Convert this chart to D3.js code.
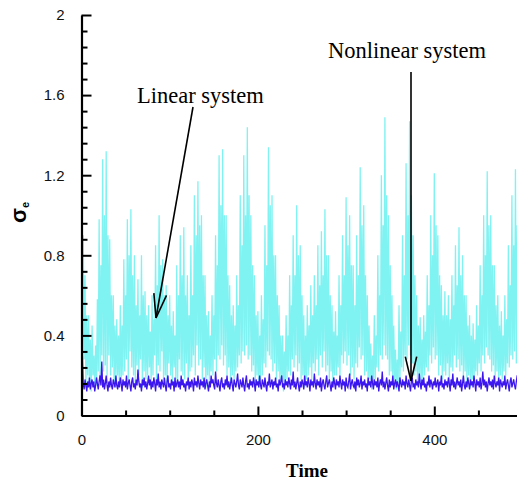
<!DOCTYPE html>
<html><head><meta charset="utf-8">
<script src="https://cdn.jsdelivr.net/npm/d3@7"></script>
<style>html,body{margin:0;padding:0;background:#fff;overflow:hidden}</style>
</head><body><svg id="c" width="517" height="484"></svg>
<script>
const timeStep = 1;
const linearSystem = [
1.05,0.2,0.9,0.28, 0.7,0.14,0.5,0.2, 0.5,0.16,0.38,0.12, 0.45,0.2,0.3,0.16, 0.35,0.15,0.58,0.22,
0.98,0.18,0.75,0.3, 1.28,0.22,1.0,0.25, 1.32,0.16,0.9,0.3, 0.88,0.2,0.6,0.24, 0.6,0.14,0.45,0.18,
0.48,0.2,0.4,0.15, 0.55,0.16,0.45,0.2, 0.78,0.22,0.6,0.28, 0.98,0.18,0.8,0.32, 1.03,0.24,0.7,0.2,
0.8,0.15,0.55,0.25, 0.68,0.2,0.5,0.28, 0.8,0.14,0.6,0.22, 0.62,0.18,0.5,0.2, 0.55,0.24,0.42,0.16,
0.6,0.2,0.48,0.3, 0.85,0.16,0.65,0.25, 1.0,0.22,0.75,0.32, 0.78,0.18,0.6,0.2, 0.65,0.14,0.5,0.26,
0.6,0.2,0.45,0.16, 0.52,0.24,0.4,0.18, 0.75,0.15,0.6,0.28, 0.9,0.22,0.7,0.2, 0.94,0.18,0.6,0.26,
0.7,0.15,0.5,0.22, 0.85,0.24,0.6,0.3, 1.1,0.2,0.9,0.35, 1.17,0.25,0.95,0.28, 1.0,0.18,0.7,0.24,
0.7,0.14,0.5,0.2, 0.52,0.16,0.4,0.22, 0.6,0.2,0.5,0.28, 0.9,0.22,0.75,0.3, 1.3,0.28,1.05,0.35,
1.33,0.25,1.0,0.3, 1.0,0.2,0.7,0.24, 0.65,0.15,0.5,0.2, 0.55,0.18,0.45,0.22, 0.7,0.24,0.55,0.3,
1.1,0.26,0.85,0.32, 1.3,0.3,1.0,0.35, 1.44,0.28,1.1,0.3, 1.0,0.22,0.75,0.25, 0.7,0.16,0.5,0.2,
0.52,0.14,0.4,0.18, 0.6,0.2,0.48,0.26, 0.95,0.24,0.75,0.32, 1.34,0.3,1.05,0.28, 1.1,0.22,0.8,0.26,
0.8,0.18,0.6,0.22, 0.55,0.15,0.4,0.18, 0.4,0.12,0.32,0.16, 0.5,0.18,0.4,0.22, 0.7,0.2,0.55,0.28,
0.9,0.24,0.7,0.3, 1.05,0.22,0.8,0.26, 0.85,0.18,0.6,0.2, 0.5,0.14,0.4,0.18, 0.55,0.2,0.45,0.24,
0.65,0.18,0.5,0.26, 0.7,0.22,0.55,0.28, 0.85,0.2,0.65,0.3, 0.92,0.24,0.7,0.32, 1.03,0.22,0.8,0.25,
0.8,0.18,0.6,0.22, 0.55,0.15,0.42,0.2, 0.52,0.2,0.4,0.24, 0.7,0.18,0.55,0.3, 0.9,0.26,0.7,0.32,
1.09,0.25,0.85,0.3, 1.0,0.2,0.75,0.24, 0.75,0.18,0.55,0.26, 0.9,0.24,0.7,0.34, 1.24,0.28,0.95,0.3,
1.05,0.2,0.7,0.22, 0.6,0.15,0.45,0.18, 0.36,0.13,0.3,0.16, 0.5,0.18,0.4,0.24, 0.8,0.22,0.6,0.3,
1.2,0.28,0.95,0.35, 1.49,0.3,1.1,0.28, 1.0,0.2,0.75,0.22, 0.6,0.15,0.45,0.18, 0.33,0.13,0.28,0.16,
0.55,0.18,0.42,0.24, 0.9,0.22,0.7,0.3, 1.26,0.28,1.0,0.35, 1.47,0.3,1.1,0.26, 0.9,0.2,0.7,0.22,
0.6,0.15,0.45,0.2, 0.49,0.14,0.38,0.18, 0.5,0.2,0.42,0.24, 0.7,0.22,0.55,0.3, 1.0,0.26,0.8,0.34,
1.21,0.28,0.95,0.3, 0.9,0.2,0.7,0.25, 0.65,0.18,0.5,0.22, 0.62,0.2,0.5,0.26, 0.6,0.16,0.48,0.24,
0.7,0.22,0.55,0.3, 0.85,0.24,0.65,0.28, 0.94,0.22,0.7,0.25, 0.8,0.18,0.6,0.22, 0.6,0.15,0.45,0.2,
0.5,0.14,0.4,0.18, 0.46,0.16,0.38,0.22, 0.55,0.2,0.45,0.26, 0.75,0.22,0.6,0.3, 1.0,0.26,0.8,0.34,
1.22,0.3,0.95,0.28, 1.0,0.22,0.75,0.25, 0.75,0.18,0.55,0.22, 0.6,0.15,0.45,0.2, 0.52,0.18,0.4,0.22,
0.6,0.2,0.48,0.26, 0.85,0.24,0.65,0.3, 1.1,0.28,0.85,0.32, 1.23,0.26,0.95,0.28, 0.9,0.2,0.7,0.22,
0.7];
const nonlinearSystem = [
0.65,0.3,0.16,0.13,0.18,0.15,0.12,0.17,0.14,0.19,
0.13,0.16,0.18,0.14,0.17,0.12,0.15,0.19,0.16,0.13,
0.17,0.2,0.15,0.27,0.14,0.18,0.13,0.16,0.2,0.15,
0.12,0.17,0.14,0.19,0.15,0.13,0.18,0.16,0.14,0.2,
0.15,0.13,0.17,0.14,0.19,0.16,0.12,0.18,0.15,0.17,
0.14,0.2,0.13,0.16,0.18,0.15,0.12,0.17,0.19,0.14,
0.16,0.13,0.18,0.15,0.23,0.17,0.14,0.16,0.12,0.18,
0.15,0.19,0.14,0.17,0.13,0.16,0.2,0.15,0.18,0.13,
0.17,0.14,0.19,0.16,0.12,0.18,0.15,0.21,0.14,0.17,
0.13,0.18,0.16,0.14,0.19,0.15,0.12,0.17,0.2,0.14,
0.16,0.13,0.18,0.15,0.17,0.12,0.19,0.14,0.16,0.18,
0.14,0.17,0.13,0.2,0.15,0.18,0.14,0.16,0.12,0.17,
0.15,0.19,0.13,0.17,0.14,0.18,0.16,0.12,0.19,0.15,
0.17,0.14,0.2,0.16,0.13,0.18,0.15,0.17,0.14,0.19,
0.13,0.16,0.18,0.15,0.12,0.17,0.14,0.2,0.16,0.18,
0.15,0.13,0.22,0.16,0.14,0.18,0.15,0.12,0.17,0.19,
0.14,0.16,0.13,0.18,0.15,0.2,0.14,0.17,0.13,0.16,
0.19,0.15,0.12,0.18,0.16,0.14,0.17,0.21,0.15,0.13,
0.18,0.16,0.14,0.19,0.15,0.12,0.17,0.2,0.14,0.16,
0.13,0.18,0.15,0.17,0.14,0.19,0.16,0.12,0.18,0.15,
0.17,0.14,0.2,0.15,0.13,0.18,0.16,0.14,0.19,0.15,
0.12,0.17,0.15,0.21,0.14,0.16,0.18,0.13,0.17,0.15,
0.19,0.14,0.16,0.12,0.18,0.15,0.17,0.2,0.14,0.16,
0.13,0.18,0.15,0.17,0.14,0.19,0.16,0.13,0.18,0.15,
0.22,0.14,0.17,0.13,0.16,0.19,0.15,0.12,0.17,0.14,
0.18,0.16,0.13,0.2,0.15,0.17,0.14,0.19,0.16,0.12,
0.18,0.15,0.17,0.14,0.21,0.16,0.13,0.18,0.15,0.17,
0.14,0.19,0.12,0.16,0.18,0.15,0.13,0.17,0.2,0.14,
0.16,0.18,0.15,0.12,0.17,0.14,0.19,0.16,0.13,0.18,
0.15,0.17,0.14,0.2,0.16,0.13,0.18,0.15,0.17,0.12,
0.19,0.15,0.14,0.17,0.21,0.13,0.16,0.18,0.15,0.14,
0.17,0.12,0.19,0.15,0.18,0.14,0.16,0.2,0.13,0.17,
0.15,0.18,0.14,0.16,0.12,0.19,0.15,0.17,0.14,0.2,
0.16,0.13,0.18,0.15,0.17,0.14,0.19,0.12,0.16,0.18,
0.15,0.22,0.14,0.17,0.13,0.16,0.19,0.15,0.12,0.18,
0.14,0.17,0.15,0.2,0.13,0.16,0.18,0.14,0.17,0.15,
0.12,0.19,0.16,0.14,0.18,0.15,0.17,0.13,0.2,0.16,
0.14,0.18,0.15,0.12,0.17,0.19,0.14,0.16,0.13,0.18,
0.15,0.17,0.14,0.21,0.16,0.13,0.18,0.15,0.19,0.14,
0.16,0.12,0.17,0.15,0.2,0.14,0.18,0.16,0.13,0.17,
0.15,0.19,0.14,0.16,0.18,0.12,0.17,0.15,0.2,0.14,
0.16,0.13,0.18,0.15,0.17,0.14,0.19,0.16,0.12,0.18,
0.15,0.21,0.14,0.17,0.13,0.16,0.19,0.15,0.17,0.14,
0.18,0.12,0.16,0.2,0.15,0.13,0.17,0.14,0.19,0.16,
0.13,0.18,0.15,0.17,0.14,0.2,0.16,0.12,0.18,0.15,
0.17,0.14,0.19,0.13,0.16,0.22,0.15,0.18,0.14,0.17,
0.12,0.16,0.19,0.15,0.17,0.14,0.18,0.13,0.2,0.16,
0.14,0.17,0.15,0.19,0.12,0.18,0.16,0.14,0.17,0.15,
0.2,0.13,0.16,0.18,0.15,0.12,0.17,0.19,0.14,0.16,
0.18,0.15,0.13,0.17,0.2,0.14,0.16,0.19,0.15,0.17,
0.16];
const xTicks = [0, 200, 400];
const xMinorTicks = [50, 100, 150, 250, 300, 350, 450, 500];
const yTicks = [0, 0.4, 0.8, 1.2, 1.6, 2];
const yTickLabels = ["0", "0.4", "0.8", "1.2", "1.6", "2"];
const yMinorTicks = [0.08,0.16,0.24,0.32,0.48,0.56,0.64,0.72,0.88,0.96,1.04,1.12,1.28,1.36,1.44,1.52,1.68,1.76,1.84,1.92];
const xTitle = "Time";
const labelLinear = "Linear system";
const labelNonlinear = "Nonlinear system";

const svg = d3.select("#c");
const x = d3.scaleLinear().domain([0, 500]).range([81.5, 522.5]);
const y = d3.scaleLinear().domain([0, 2]).range([415.5, 15]);

svg.append("defs").append("clipPath").attr("id", "clip")
  .append("rect").attr("x", 81.5).attr("y", 10).attr("width", 445).attr("height", 406);

const line = d3.line().x((d, i) => x(i * timeStep)).y(d => y(d));
const g = svg.append("g").attr("clip-path", "url(#clip)");
g.append("path").datum(linearSystem).attr("d", line)
  .attr("fill", "none").attr("stroke", "#7ff2f2").attr("stroke-width", 1.3);
g.append("path").datum(nonlinearSystem).attr("d", line)
  .attr("fill", "none").attr("stroke", "#3c16ee").attr("stroke-width", 1.3);

// axes
const axisFont = "'Liberation Sans', Arial, sans-serif";
const yAxis = svg.append("g").attr("transform", "translate(81.5,0)")
  .call(d3.axisLeft(y).tickValues(yTicks).tickFormat((d, i) => yTickLabels[i])
    .tickSizeInner(-10).tickSizeOuter(0).tickPadding(17));
yAxis.append("g").call(d3.axisLeft(y).tickValues(yMinorTicks).tickFormat("")
    .tickSizeInner(-6).tickSizeOuter(0)).select(".domain").remove();
const xAxis = svg.append("g").attr("transform", "translate(0,415.5)")
  .call(d3.axisBottom(x).tickValues(xTicks).tickFormat(d3.format("d"))
    .tickSizeInner(-9).tickSizeOuter(0).tickPadding(19));
xAxis.append("g").call(d3.axisBottom(x).tickValues(xMinorTicks).tickFormat("")
    .tickSizeInner(-5).tickSizeOuter(0)).select(".domain").remove();
svg.selectAll(".domain").attr("stroke", "#000").attr("stroke-width", 2.2);
svg.selectAll(".tick line").attr("stroke", "#000").attr("stroke-width", 2);
svg.selectAll(".tick text").attr("font-family", axisFont).attr("font-size", 15).attr("fill", "#111");

// axis titles
svg.append("text").attr("x", 307).attr("y", 477).attr("text-anchor", "middle")
  .attr("font-family", "'Liberation Serif', 'Times New Roman', serif").attr("font-weight", "bold")
  .attr("font-size", 19).text(xTitle);
const yt = svg.append("text").attr("transform", "translate(26,223) rotate(-90)")
  .attr("font-family", axisFont).attr("font-weight", "bold").attr("font-size", 22);
yt.append("tspan").text("σ");
yt.append("tspan").attr("font-size", 11).attr("dy", 3).text("e");

// annotations
const serif = "'Liberation Serif', 'Times New Roman', serif";
svg.append("text").attr("x", 137).attr("y", 103).attr("font-family", serif)
  .attr("font-size", 22.5).text(labelLinear);
svg.append("text").attr("x", 328).attr("y", 58).attr("font-family", serif)
  .attr("font-size", 22.5).text(labelNonlinear);

function arrow(x1, y1, x2, y2, len, ang) {
  svg.append("line").attr("x1", x1).attr("y1", y1).attr("x2", x2).attr("y2", y2)
    .attr("stroke", "#000").attr("stroke-width", 1.6);
  const a = Math.atan2(y1 - y2, x1 - x2);
  [ang, -ang].forEach(s => {
    svg.append("line").attr("x1", x2).attr("y1", y2)
      .attr("x2", x2 + len * Math.cos(a + s)).attr("y2", y2 + len * Math.sin(a + s))
      .attr("stroke", "#000").attr("stroke-width", 1.6);
  });
}
arrow(193, 107, 156, 318, 25, 0.26);
arrow(411, 72, 411, 381, 25, 0.23);
</script></body></html>
